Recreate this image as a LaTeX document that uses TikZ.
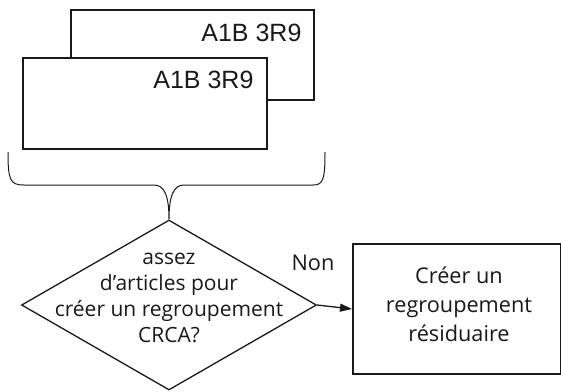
\documentclass[tikz,border=0pt]{standalone}
\usepackage{fontspec}
\setmainfont{Open Sans}
\newfontfamily\arialf{Liberation Sans}
\usetikzlibrary{shapes.geometric,arrows.meta}
\begin{document}
\begin{tikzpicture}[x=1pt,y=-1pt,
  card/.style={draw=black!90, line width=2pt, fill=white, inner sep=0pt, anchor=north west},
  code/.style={anchor=base east, text=black!90, font=\arialf\fontsize{25}{30}\selectfont},
  body/.style={align=center, text=black!90, inner sep=0pt, font=\fontsize{21}{26}\selectfont},
  thin/.style={draw=black!90, line width=1.3pt},
  brace/.style={draw=black!90, line width=1pt}]
\useasboundingbox (0,0) rectangle (561,391);
% stacked cards
\node[card, minimum width=243pt, minimum height=90pt] (back) at (70,9) {};
\node[code] (backlabel) at (305,41) {A1B 3R9};
\node[card, minimum width=244pt, minimum height=91pt] (front) at (22,57) {};
\node[code] (frontlabel) at (257,88) {A1B 3R9};
% decision
\node[thin, diamond, minimum width=295pt, minimum height=170pt, inner sep=0pt] (dec) at (169,305) {};
\node[body] (dectext) at (169,297.5) {assez\\d’articles pour\\créer un regroupement\\CRCA?};
% brace
\coordinate (bl) at (8,152);
\coordinate (br) at (325,152);
\draw[brace] (bl) .. controls (8,180) and (10,185) .. (24,185) -- (154,185)
  .. controls (164,185) and (169,195) .. (dec.north)
  .. controls (169,195) and (174,185) .. (184,185) -- (313,185)
  .. controls (323,185) and (325,180) .. (br);
% result box
\node[card, minimum width=208pt, minimum height=130pt] (res) at (352,243) {};
\node[body, font=\fontsize{21.7}{29}\selectfont] (restext) at (459,304) {Créer un\\regroupement\\résiduaire};
\draw[thin, -{Triangle[length=12pt,width=8pt]}] (dec.east) -- (res.west);
\node[body, font=\fontsize{21.7}{26}\selectfont] (non) at (313,263) {Non};
\end{tikzpicture}
\end{document}
